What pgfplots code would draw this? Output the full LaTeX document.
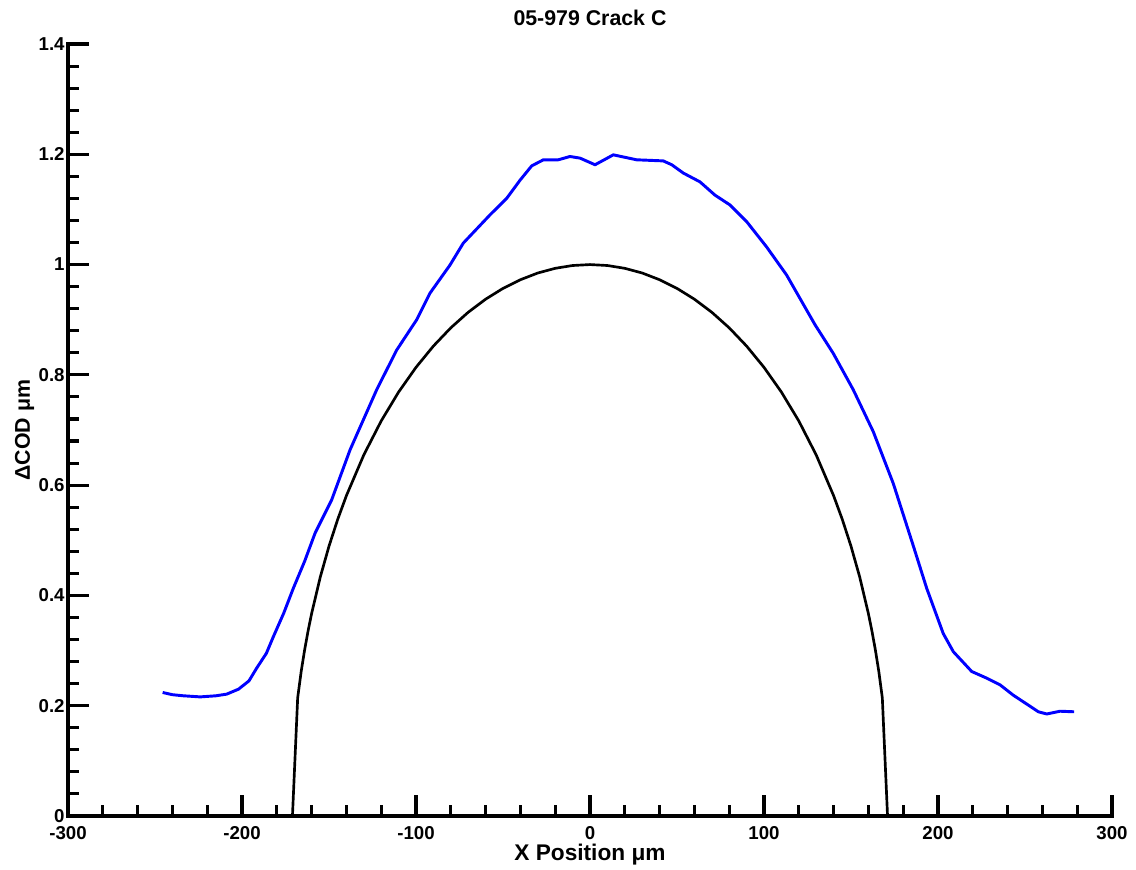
\documentclass[border=0pt]{standalone}
\usepackage{fontspec}
\setmainfont{Liberation Sans}
\usepackage{pgfplots}
\pgfplotsset{compat=1.18}
\begin{document}
\begin{tikzpicture}[font=\fontsize{13}{15}\selectfont\bfseries]
\path[use as bounding box] (-51pt,-39.75pt) rectangle (801pt,612pt);
\begin{axis}[
  at={(0,0)}, anchor=south west,
  scale only axis, width=783pt, height=579pt,
  xmin=-300, xmax=300, ymin=0, ymax=1.4,
  axis x line*=bottom, axis y line*=left,
  axis line style={-, line width=2.4pt, line cap=rect},
  xtick={-300,-200,...,300}, ytick={0,0.2,...,1.4},
  minor x tick num=4, minor y tick num=4,
  tick align=inside,
  major tick length=16pt, minor tick length=8pt,
  every tick/.style={black, line width=2.3pt},
  /pgf/number format/assume math mode=true,
  tick label style={font=\fontsize{14}{16}\selectfont\bfseries},
  xticklabel style={yshift=-4pt},
  yticklabel style={xshift=1pt},
  every axis title shift=0pt,
  title={05-979 Crack C},
  title style={at={(axis description cs:0.5,1.0242)}, anchor=base, font=\fontsize{16}{18}\selectfont\bfseries},
  xlabel={X Position μm},
  xlabel style={at={(axis description cs:0.5,-0.057)}, anchor=base, font=\fontsize{17}{19}\selectfont\bfseries},
  ylabel={ΔCOD μm},
  ylabel style={at={(axis description cs:-0.0364,0.5)}, anchor=base, rotate=0, font=\fontsize{16}{18}\selectfont\bfseries},
  clip=false,
]
\addplot[black, line width=2pt, line join=round] coordinates {
(-171,0) (-168,0.2144) (-166,0.2618) (-164,0.3014) (-162,0.3360) (-160,0.3670)
(-155,0.4335) (-150,0.4893) (-145,0.5379) (-140,0.5809) (-130,0.6548) (-120,0.7164)
(-110,0.7688) (-100,0.8136) (-90,0.8522) (-80,0.8853) (-70,0.9135) (-60,0.9372)
(-50,0.9568) (-40,0.9725) (-30,0.9847) (-20,0.9932) (-10,0.9983) (0,1)
(10,0.9983) (20,0.9932) (30,0.9847) (40,0.9725) (50,0.9568) (60,0.9372)
(70,0.9135) (80,0.8853) (90,0.8522) (100,0.8136) (110,0.7688) (120,0.7164)
(130,0.6548) (140,0.5809) (145,0.5379) (150,0.4893) (155,0.4335) (160,0.3670)
(162,0.3360) (164,0.3014) (166,0.2618) (168,0.2144) (171,0)
};
\addplot[color={rgb,255:red,0;green,0;blue,255}, line width=2.2pt, line join=round] coordinates {
(-245.6,0.224) (-240,0.220) (-233.7,0.218) (-224,0.216) (-215,0.218) (-208.8,0.221)
(-202,0.230) (-196,0.245) (-191.6,0.268) (-186,0.295) (-182,0.325) (-176,0.368)
(-170.5,0.413) (-164,0.462) (-158,0.513) (-148.5,0.573) (-137.9,0.664) (-122.6,0.773)
(-111.1,0.845) (-99.6,0.900) (-92,0.948) (-80.5,0.999) (-72.8,1.039) (-57.5,1.090)
(-47.9,1.120) (-40.2,1.153) (-33.5,1.179) (-26.8,1.190) (-18.2,1.190) (-11.5,1.196)
(-5.7,1.193) (2.9,1.181) (13.4,1.199) (26.8,1.190) (42.1,1.188) (47,1.181)
(53.6,1.166) (63.2,1.150) (71.8,1.126) (80.5,1.108) (90,1.078) (101.5,1.032)
(113,0.981) (129.3,0.891) (139.8,0.839) (151.3,0.773) (162.8,0.697) (174.3,0.603)
(185.8,0.490) (193.5,0.413) (203,0.331) (208.8,0.298) (219.4,0.262) (228,0.250)
(235.6,0.238) (243.3,0.219) (251,0.203) (257.7,0.189) (262.5,0.185) (270.1,0.190)
(278.2,0.189)
};
\end{axis}
\end{tikzpicture}
\end{document}
